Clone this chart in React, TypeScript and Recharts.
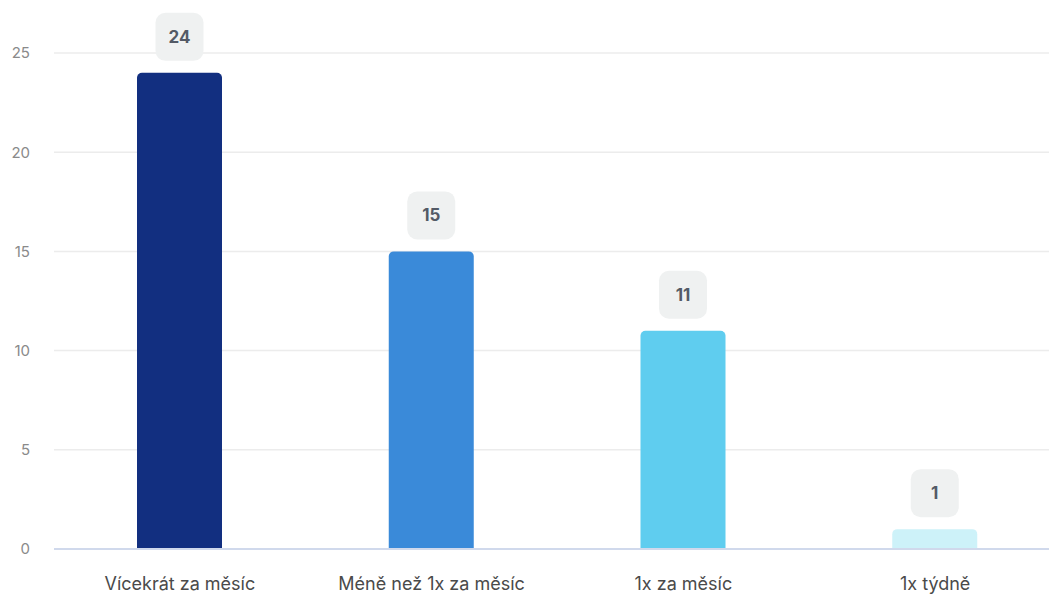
import { BarChart, Bar, XAxis, YAxis, CartesianGrid, Cell, LabelList } from 'recharts';

const categories = ['Vícekrát za měsíc', 'Méně než 1x za měsíc', '1x za měsíc', '1x týdně'];
const counts = [24, 15, 11, 1];
const barColors = ['#122f80', '#3a8ad9', '#5fcdef', '#cdf2f9'];
const yTicks = [0, 5, 10, 15, 20, 25];

const data = categories.map((name, i) => ({ name, value: counts[i] }));

function ValueBadge(props: any) {
  const { x, y, width, value } = props;
  const cx = x + width / 2;
  const boxW = 48;
  const boxH = 48;
  const top = y - 12 - boxH;
  return (
    <g>
      <rect x={cx - boxW / 2} y={top} width={boxW} height={boxH} rx={10} ry={10} fill="#eff1f1" />
      <text
        x={cx}
        y={top + boxH / 2}
        textAnchor="middle"
        dominantBaseline="central"
        fill="#535a66"
        fontSize={17}
        fontWeight={700}
      >
        {value}
      </text>
    </g>
  );
}

export default function App() {
  return (
    <div
      style={{
        position: 'absolute',
        top: 0,
        left: 0,
        width: 1049,
        height: 595,
        overflow: 'hidden',
        background: '#fff',
        fontFamily: 'Inter, sans-serif',
      }}
    >
      <BarChart width={1070} height={595} data={data} margin={{ top: 53, right: 9, bottom: 0, left: 0 }}>
        <CartesianGrid vertical={false} stroke="#ececec" strokeWidth={1.5} />
        <XAxis
          dataKey="name"
          height={46}
          tickLine={false}
          axisLine={{ stroke: '#d0d9ec', strokeWidth: 2 }}
          tickSize={0}
          tickMargin={28}
          tick={{ fill: '#4a4a4a', fontSize: 18 }}
          interval={0}
        />
        <YAxis
          width={54}
          domain={[0, 25]}
          ticks={yTicks}
          axisLine={false}
          tickLine={false}
          tickSize={0}
          tickMargin={24}
          tick={{ fill: '#8a8a8a', fontSize: 15 }}
        />
        <Bar dataKey="value" barSize={85} radius={[5, 5, 0, 0]} isAnimationActive={false}>
          {data.map((entry, index) => (
            <Cell key={`cell-${index}`} fill={barColors[index]} />
          ))}
          <LabelList dataKey="value" content={ValueBadge} />
        </Bar>
      </BarChart>
    </div>
  );
}
